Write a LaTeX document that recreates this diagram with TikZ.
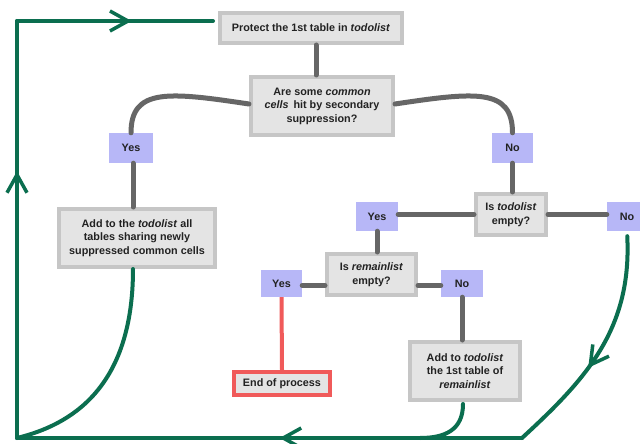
\documentclass[tikz,border=0pt]{standalone}
\usepackage{fontspec}
\setmainfont{Liberation Sans}
\usetikzlibrary{arrows.meta,decorations.markings}
\definecolor{gr}{HTML}{0B6E4F}
\definecolor{gcon}{HTML}{666666}
\definecolor{bordg}{HTML}{C6C6C6}
\definecolor{fillg}{HTML}{E4E4E4}
\definecolor{lav}{HTML}{B7B7F7}
\definecolor{redc}{HTML}{F05A5A}
\definecolor{txt}{HTML}{222222}
\begin{document}
\begin{tikzpicture}[x=1pt,y=-1pt,
  every node/.style={font=\fontsize{10.8}{13.5}\selectfont\bfseries, text=txt, inner sep=0pt, align=center},
  gbox/.style={draw=bordg, fill=fillg, line width=4pt},
  rbox/.style={draw=redc, fill=fillg, line width=4pt},
  lbox/.style={fill=lav},
  gline/.style={draw=gcon, line width=5pt, line cap=round},
  grline/.style={draw=gr, line width=4pt, line cap=round, line join=round},
  midarrow/.style={postaction={decorate,decoration={markings,mark=at position #1 with {\arrow[gr,line width=3.5pt]{Straight Barb[length=18pt,width=20pt]}}}}}
]
\useasboundingbox (0,0) rectangle (640,444);
\fill[white] (0,0) rectangle (640,444);

% boxes
\node[gbox, minimum width=182pt, minimum height=30pt] (prot) at (311,28) {Protect the 1st table in \textit{todolist}};
\node[gbox, minimum width=142pt, minimum height=58pt] (q) at (322,106) {Are some \textit{common}\\\textit{cells}\, hit by secondary\\suppression?};
\node[lbox, minimum width=44pt, minimum height=30pt] (yes1) at (131,148) {Yes};
\node[lbox, minimum width=41pt, minimum height=30pt] (no1) at (512.5,148) {No};
\node[gbox, minimum width=156pt, minimum height=58pt] (add1) at (137,238) {Add to the \textit{todolist} all\\tables sharing newly\\suppressed common cells};
\node[gbox, minimum width=70pt, minimum height=41pt] (tdl) at (511,214.5) {Is \textit{todolist}\\empty?};
\node[lbox, minimum width=42pt, minimum height=29pt] (yes2) at (377,216.5) {Yes};
\node[lbox, minimum width=40pt, minimum height=29pt] (no2) at (627,216.5) {No};
\node[gbox, minimum width=89pt, minimum height=41pt] (rem) at (371.5,274.5) {Is \textit{remainlist}\\empty?};
\node[lbox, minimum width=41pt, minimum height=27pt] (yes3) at (281.5,283.5) {Yes};
\node[lbox, minimum width=42pt, minimum height=27pt] (no3) at (462,283.5) {No};
\node[rbox, minimum width=96pt, minimum height=23pt] (endp) at (282,383.5) {End of process};
\node[gbox, minimum width=110pt, minimum height=58pt] (add2) at (465,371) {Add to \textit{todolist}\\the 1st table of\\\textit{remainlist}};

% gray connectors
\draw[gline] ([xshift=5pt]prot.south) -- ([xshift=5pt]prot.south |- q.north);
\draw[gline] ([yshift=2pt]q.west) .. controls +(-80,-12) and +(0,-45) .. (yes1.north);
\draw[gline] ([yshift=2pt]q.east) .. controls +(80,-12) and +(0,-45) .. (no1.north);
\draw[gline] ([xshift=2pt]yes1.south) -- ([xshift=2pt]yes1.south |- add1.north);
\draw[gline] (no1.south) -- (no1.south |- tdl.north);
\draw[gline] (tdl.west) -- (tdl.west -| yes2.east);
\draw[gline] (tdl.east) -- (tdl.east -| no2.west);
\draw[gline] (yes2.south) -- (yes2.south |- rem.north);
\draw[gline] ([yshift=-2pt]yes3.east) -- ([yshift=-2pt]yes3.east -| rem.west);
\draw[gline] ([yshift=-2pt]no3.west) -- ([yshift=-2pt]no3.west -| rem.east);
\draw[gline] (no3.south) -- (no3.south |- add2.north);
\draw[line width=4pt, draw=redc] (yes3.south) -- (endp.north);

% green loop
\coordinate (bl) at (17,438);
\coordinate (tl) at (17,21);
\coordinate (br) at (522,438);
\coordinate (mg) at (420,438);
\draw[grline] ([xshift=-4pt]add1.south) .. controls +(0,120) and (70,425) .. (bl);
\draw[grline, midarrow=0.64] (bl) -- (tl);
\draw[grline, midarrow=0.57, shorten >=5pt] (tl) -- (prot.west |- tl);
\draw[grline, midarrow=0.6, shorten <=5pt] (no2.south) .. controls (632,330) and (585,380) .. (br);
\draw[grline, midarrow=0.48] (br) -- (bl);
\draw[grline, shorten <=2pt] ([xshift=-2pt]add2.south) .. controls +(0,28) and +(25,0) .. (mg);
\end{tikzpicture}
\end{document}
